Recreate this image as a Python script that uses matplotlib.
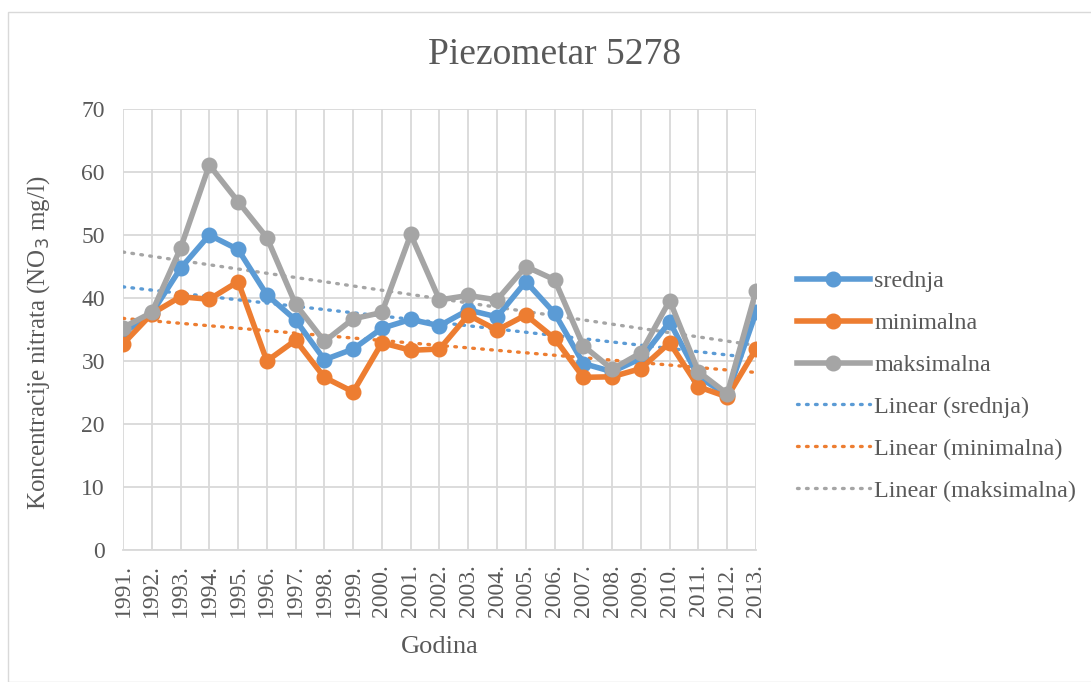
import numpy as np
import matplotlib
matplotlib.use("Agg")
import matplotlib.pyplot as plt
from matplotlib.patches import Rectangle

years = [f"{y}." for y in range(1991, 2014)]
srednja = [34.4, 37.6, 44.7, 50.0, 47.7, 40.5, 36.5, 30.2, 31.9, 35.2, 36.6, 35.6,
           38.1, 37.0, 42.6, 37.6, 29.6, 28.3, 30.4, 36.2, 27.5, 24.6, 37.7]
minimalna = [32.7, 37.5, 40.2, 39.8, 42.6, 30.0, 33.3, 27.4, 25.1, 32.9, 31.7, 31.9,
             37.3, 34.9, 37.3, 33.6, 27.4, 27.5, 28.8, 32.9, 25.9, 24.3, 31.9]
maksimalna = [35.3, 37.7, 47.9, 61.1, 55.3, 49.6, 39.0, 33.1, 36.7, 37.7, 50.1, 39.7,
              40.4, 39.7, 45.0, 42.9, 32.4, 28.7, 31.3, 39.6, 28.3, 24.8, 41.1]

series = [("srednja", srednja, "#5B9BD5"),
          ("minimalna", minimalna, "#ED7D31"),
          ("maksimalna", maksimalna, "#A5A5A5")]

plt.rcParams["font.family"] = ["Liberation Serif", "DejaVu Serif"]
TXT = "#595959"
W, H = 1091, 682
fig = plt.figure(figsize=(W / 100, H / 100), dpi=100)
ax = fig.add_axes([123 / W, 1 - 550 / H, (756 - 123) / W, (550 - 109) / H])

x = np.arange(len(years))
handles = []
for name, vals, col in series:
    h, = ax.plot(x, vals, "-o", color=col, lw=4.0, ms=10.5, label=name, zorder=3)
    handles.append(h)
for name, vals, col in series:
    k, b = np.polyfit(x, vals, 1)
    h, = ax.plot(x, k * x + b, color=col, lw=2.4, ls=(0, (0.5, 2.2)),
                 dash_capstyle="round", label=f"Linear ({name})", zorder=2)
    handles.append(h)

ax.set_xlim(0, len(years) - 1)
ax.set_ylim(0, 70)
ax.set_yticks(range(0, 71, 10))
ax.set_xticks(x)
ax.set_xticklabels(years, rotation=90, fontsize=17, color=TXT)
ax.tick_params(axis="y", labelsize=17, labelcolor=TXT, length=0, pad=13)
ax.tick_params(axis="x", length=0, pad=10)
ax.grid(True, color="#D9D9D9", lw=1.3)
ax.set_axisbelow(True)
for s in ["top", "right", "left"]:
    ax.spines[s].set_visible(False)
ax.spines["bottom"].set_color("#D9D9D9")
ax.spines["bottom"].set_linewidth(1.3)

ax.set_xlabel("Godina", fontsize=19, color=TXT, labelpad=14)
ax.set_ylabel("Koncentracije nitrata (NO$_3$ mg/l)", fontsize=18, color=TXT)
ax.yaxis.set_label_coords(-0.112, 0.47)
fig.text(555 / W, 1 - 55 / H, "Piezometar 5278", fontsize=27, color=TXT,
         ha="center", va="center")

fig.legend(handles=handles, loc="center left", bbox_to_anchor=(797 / W, 1 - 386 / H),
           frameon=False, fontsize=17.4, handlelength=3.0, labelspacing=0.83,
           labelcolor=TXT, handletextpad=0.2, borderpad=0, borderaxespad=0)

fig.patches.append(Rectangle((8 / W, 0), 1.2, 1 - 12 / H, transform=fig.transFigure,
                             fill=False, edgecolor="#D9D9D9", lw=1))
fig.savefig("out.png", dpi=100)
